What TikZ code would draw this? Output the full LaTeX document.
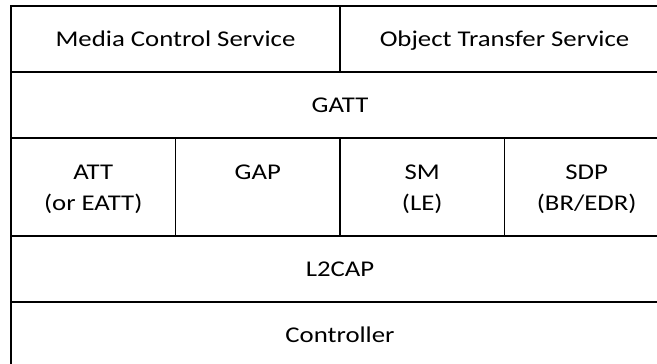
\documentclass[tikz,border=0pt]{standalone}
\usepackage{fontspec}
\setmainfont{Carlito}[FakeStretch=1.19]
\usetikzlibrary{positioning}
\begin{document}
\begin{tikzpicture}[node distance=0pt, x=1pt, y=1pt]

\tikzstyle{every node}=[font=\fontsize{22.5}{30.7}\selectfont]
\tikzstyle{layer} = [rectangle, draw, line width=1.9pt, align=center, inner sep=0pt, outer sep=0pt, minimum height=66pt, text height=15pt, text depth=0pt]
\tikzstyle{half} = [layer, minimum width=329pt]
\tikzstyle{full} = [layer, minimum width=658pt]
\tikzstyle{quarter} = [layer, minimum width=164.5pt, minimum height=98pt, text height=46pt]

\clip (0,0) rectangle (657,-364);

% Profiles
\node[half, anchor=north west] (mcs) at (11,-6) {Media Control Service};
\node[half, right=of mcs] (ots) {Object Transfer Service};

% Host
\node[full, below=of mcs.south west, anchor=north west] (gatt) {GATT};
\node[quarter, below=of gatt.south west, anchor=north west] (att) {ATT\\(or EATT)};
\node[quarter, right=of att, text height=13.3pt, text depth=28.7pt] (gap) {GAP};
\node[quarter, right=of gap] (sm) {SM\\(LE)};
\node[quarter, right=of sm] (sdp) {SDP\\(BR/EDR)};
\node[full, below=of att.south west, anchor=north west] (l2cap) {L2CAP};

% Controller
\node[full, below=of l2cap.south west, anchor=north west] (ctrl) {Controller};

\end{tikzpicture}
\end{document}
